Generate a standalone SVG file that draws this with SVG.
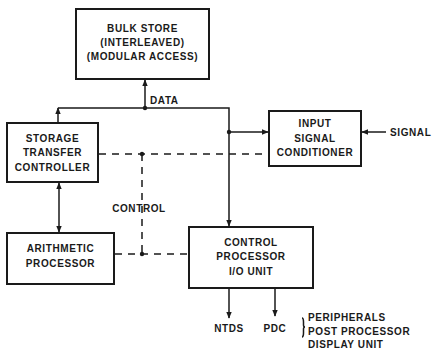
<svg xmlns="http://www.w3.org/2000/svg" width="433" height="351" viewBox="0 0 433 351">
<defs>
<style>
.box{fill:#fff;stroke:#1a1a1a;stroke-width:2}
.t{font-family:"Liberation Sans",Arial,sans-serif;font-weight:bold;font-size:10px;letter-spacing:0.6px;fill:#1a1a1a;text-anchor:middle}
.l{text-anchor:start}
.c{fill:none;stroke:#1a1a1a;stroke-width:1.5}
.d{fill:none;stroke:#1a1a1a;stroke-width:1.5;stroke-dasharray:7,6}
.dot{fill:#1a1a1a}
</style>
<marker id="ah" viewBox="0 0 10 10" refX="9" refY="5" markerWidth="7" markerHeight="7" orient="auto-start-reverse" markerUnits="userSpaceOnUse">
<path d="M0,1 L10,5 L0,9 Z" fill="#1a1a1a"/>
</marker>
</defs>
<rect width="433" height="351" fill="#fff"/>
<g id="connectors">
<path class="c" d="M145,108 V80" marker-end="url(#ah)"/>
<path class="c" d="M58,108 H229 V226" marker-end="url(#ah)"/>
<path class="c" d="M58,108 V122" marker-start="url(#ah)"/>
<path class="c" d="M229,132 H268" marker-end="url(#ah)"/>
<path class="c" d="M386,132 H362" marker-end="url(#ah)"/>
<path class="c" d="M59,183 V232" marker-start="url(#ah)" marker-end="url(#ah)"/>
<path class="d" d="M99,154 H268"/>
<path class="d" d="M142,154 V254"/>
<path class="d" d="M115,254 H188"/>
<path class="c" d="M229,289 V318" marker-end="url(#ah)"/>
<path class="c" d="M275,289 V316" marker-end="url(#ah)"/>
<circle class="dot" cx="145" cy="108" r="2.2"/>
<circle class="dot" cx="229" cy="132" r="2.2"/>
<circle class="dot" cx="142" cy="154" r="2.2"/>
<circle class="dot" cx="142" cy="254" r="2.2"/>
<path class="c" d="M302,318 Q303.5,318 303.5,322 V325 Q303.5,327 305,327 Q303.5,327 303.5,329 V333 Q303.5,337 302,337" stroke-width="1.2"/>
<text class="t l" x="150" y="104">DATA</text>
<text class="t" x="139" y="212">CONTROL</text>
<text class="t l" x="390" y="136">SIGNAL</text>
<text class="t" x="229" y="332">NTDS</text>
<text class="t" x="275" y="332">PDC</text>
<text class="t l" x="308" y="321">PERIPHERALS</text>
<text class="t l" x="308" y="335">POST PROCESSOR</text>
<text class="t l" x="308" y="348">DISPLAY UNIT</text>
</g>
<g id="bulk-store">
<rect class="box" x="76" y="9" width="133" height="70"/>
<text class="t" x="142.5" y="32">BULK STORE</text>
<text class="t" x="142.5" y="46">(INTERLEAVED)</text>
<text class="t" x="142.5" y="60">(MODULAR ACCESS)</text>
</g>
<g id="storage-transfer-controller">
<rect class="box" x="7" y="123" width="91" height="59"/>
<text class="t" x="52.5" y="142">STORAGE</text>
<text class="t" x="52.5" y="156">TRANSFER</text>
<text class="t" x="52.5" y="171">CONTROLLER</text>
</g>
<g id="input-signal-conditioner">
<rect class="box" x="269" y="111" width="92" height="55"/>
<text class="t" x="315" y="127">INPUT</text>
<text class="t" x="315" y="142">SIGNAL</text>
<text class="t" x="315" y="156">CONDITIONER</text>
</g>
<g id="arithmetic-processor">
<rect class="box" x="7" y="233" width="107" height="51"/>
<text class="t" x="60.5" y="252">ARITHMETIC</text>
<text class="t" x="60.5" y="267">PROCESSOR</text>
</g>
<g id="control-processor">
<rect class="box" x="189" y="227" width="124" height="61"/>
<text class="t" x="251" y="246">CONTROL</text>
<text class="t" x="251" y="260">PROCESSOR</text>
<text class="t" x="251" y="275">I/O UNIT</text>
</g>
</svg>
